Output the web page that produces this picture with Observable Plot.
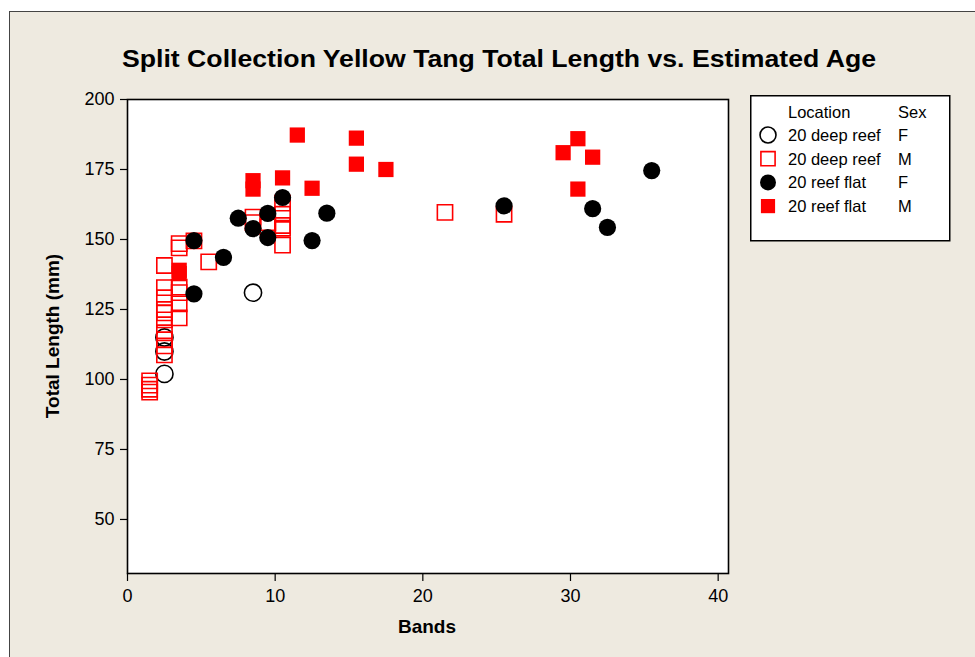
<!DOCTYPE html>
<html><head><meta charset="utf-8">
<script src="https://cdn.jsdelivr.net/npm/d3@7"></script>
<script src="https://cdn.jsdelivr.net/npm/@observablehq/plot@0.6"></script>
<style>
body{margin:0;background:#fff;}
#wrap{position:relative;width:975px;height:657px;overflow:hidden;background:#fff;font-family:"Liberation Sans",Arial,sans-serif;}
#bg{position:absolute;left:9px;top:11px;width:990px;height:670px;background:#eeeae0;border-left:1.5px solid #444;border-top:1.5px solid #444;}
#chart{position:absolute;left:0;top:0;}
#title{position:absolute;left:0;top:0;}
#legend{position:absolute;left:750px;top:95px;}
.axt{position:absolute;font-weight:bold;font-size:19px;color:#000;white-space:nowrap;}
</style></head><body>
<div id="wrap">
<div id="bg"></div>
<div id="chart"></div>
<svg id="title" width="975" height="90"><text x="499" y="67" text-anchor="middle" font-family="Liberation Sans, Arial, sans-serif" font-weight="bold" font-size="23" textLength="754" lengthAdjust="spacingAndGlyphs">Split Collection Yellow Tang Total Length vs. Estimated Age</text></svg>
<div class="axt" id="xlab">Bands</div>
<div class="axt" id="ylab">Total Length (mm)</div>
<svg id="legend" width="201" height="147"></svg>
</div>
<script>
// ---- data ----
const xTicks = [0, 10, 20, 30, 40];
const yTicks = [50, 75, 100, 125, 150, 175, 200];

const deepF_bands = [2.5, 2.5, 2.5, 8.5];
const deepF_len   = [115, 110, 102, 131];

const deepM_bands = [1.5,1.5,1.5,1.5, 2.5,2.5,2.5,2.5,2.5,2.5,2.5,2.5,2.5,2.5, 3.5,3.5,3.5,3.5,3.5,3.5, 4.5, 5.5, 8.5,8.5, 9.5,9.5, 10.5,10.5,10.5,10.5,10.5, 21.5, 25.5];
const deepM_len   = [99.5,98,96.5,95.5, 140.7,132.8,129.2,125,123.8,121.3,116.7,114.2,112,108.8, 148.5,147,133,131,127,122, 149.5, 142, 158,156, 156,154.5, 163,159,155,154,148, 159.7, 159];

const flatF_bands = [4.5, 4.5, 6.5, 7.5, 8.5, 9.5, 9.5, 10.5, 12.5, 13.5, 25.5, 31.5, 32.5, 35.5];
const flatF_len   = [149.6, 130.6, 143.6, 157.6, 153.9, 159.3, 150.7, 165, 149.6, 159.4, 162, 161, 154.3, 174.6];

const flatM_bands = [3.5, 3.5, 8.5, 8.5, 10.5, 11.5, 12.5, 15.5, 15.5, 17.5, 29.5, 30.5, 30.5, 31.5];
const flatM_len   = [139, 137.8, 171, 168, 172, 187.3, 168.3, 186.2, 176.9, 175, 181, 186, 168, 179.4];

const legendLocations = ["20 deep reef", "20 deep reef", "20 reef flat", "20 reef flat"];
const legendSexes = ["F", "M", "F", "M"];

const rows = (b, l) => b.map((v, i) => ({bands: v, len: l[i]}));
const deepF = rows(deepF_bands, deepF_len);
const deepM = rows(deepM_bands, deepM_len);
const flatF = rows(flatF_bands, flatF_len);
const flatM = rows(flatM_bands, flatM_len);

const RED = "#ff0000";
const R = 8.6;
const styles = [
  {symbol: "circle", fill: "none", stroke: "black"},
  {symbol: "square", fill: "none", stroke: RED},
  {symbol: "circle", fill: "black", stroke: "none"},
  {symbol: "square", fill: RED, stroke: "none"}
];

const plot = Plot.plot({
  width: 975, height: 657,
  marginLeft: 127, marginRight: 247, marginTop: 99, marginBottom: 84,
  style: {background: "transparent", fontFamily: "Liberation Sans, Arial, sans-serif", fontSize: "18px", color: "black"},
  x: {domain: [0, 40.7]},
  y: {domain: [30.7, 200]},
  marks: [
    Plot.frame({fill: "white", stroke: "none"}),
    Plot.axisX({ticks: xTicks, tickSize: 8, tickPadding: 8, label: null, stroke: "black", strokeWidth: 1.2}),
    Plot.axisY({ticks: yTicks, tickSize: 7, tickPadding: 6, label: null, stroke: "black", strokeWidth: 1.2}),
    Plot.dot(deepF, {x: "bands", y: "len", r: R, strokeWidth: 1.6, ...styles[0]}),
    Plot.dot(deepM, {x: "bands", y: "len", r: R, strokeWidth: 1.6, ...styles[1]}),
    Plot.dot(flatF, {x: "bands", y: "len", r: R, ...styles[2]}),
    Plot.dot(flatM, {x: "bands", y: "len", r: R, ...styles[3]}),
    Plot.frame({stroke: "black", strokeWidth: 1.6})
  ]
});
document.getElementById("chart").appendChild(plot);

// axis titles
const xl = document.getElementById("xlab");
const xr = xl.getBoundingClientRect();
xl.style.left = (427 - xr.width / 2) + "px";
xl.style.top = (627 - xr.height / 2) + "px";
const yl = document.getElementById("ylab");
const yr = yl.getBoundingClientRect();
yl.style.left = (53 - yr.width / 2) + "px";
yl.style.top = (336 - yr.height / 2) + "px";
yl.style.transform = "rotate(-90deg)";

// legend
const lg = d3.select("#legend");
lg.append("rect").attr("x", 0.75).attr("y", 0.75).attr("width", 199).attr("height", 145)
  .attr("fill", "white").attr("stroke", "black").attr("stroke-width", 1.5);
const tf = "Liberation Sans, Arial, sans-serif";
lg.append("text").attr("x", 38).attr("y", 23).attr("font-family", tf).attr("font-size", 16.5).text("Location");
lg.append("text").attr("x", 148).attr("y", 23).attr("font-family", tf).attr("font-size", 16.5).text("Sex");
legendLocations.forEach((loc, i) => {
  const cy = 40 + i * 23.7;
  const s = styles[i];
  const type = s.symbol === "circle" ? d3.symbolCircle : d3.symbolSquare;
  lg.append("path").attr("transform", `translate(18,${cy})`)
    .attr("d", d3.symbol(type, Math.PI * 64)())
    .attr("fill", s.fill).attr("stroke", s.stroke).attr("stroke-width", 1.6);
  lg.append("text").attr("x", 38).attr("y", cy + 6).attr("font-family", tf).attr("font-size", 16.5).text(loc);
  lg.append("text").attr("x", 148).attr("y", cy + 6).attr("font-family", tf).attr("font-size", 16.5).text(legendSexes[i]);
});
</script>
</body></html>
